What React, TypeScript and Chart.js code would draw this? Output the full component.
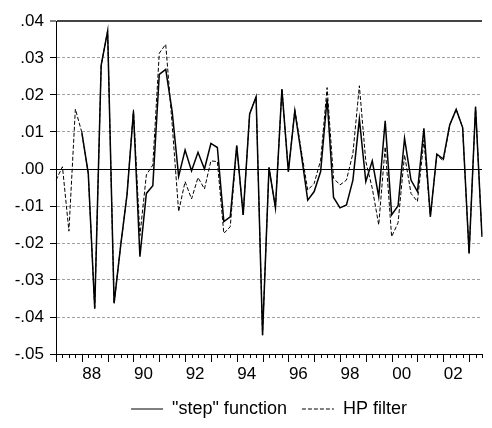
import React, { useEffect, useRef } from "react";
import { Chart, registerables } from "chart.js";

Chart.register(...registerables);

const quarters: string[] = [
  "1987Q1", "1987Q2", "1987Q3", "1987Q4",
  "1988Q1", "1988Q2", "1988Q3", "1988Q4",
  "1989Q1", "1989Q2", "1989Q3", "1989Q4",
  "1990Q1", "1990Q2", "1990Q3", "1990Q4",
  "1991Q1", "1991Q2", "1991Q3", "1991Q4",
  "1992Q1", "1992Q2", "1992Q3", "1992Q4",
  "1993Q1", "1993Q2", "1993Q3", "1993Q4",
  "1994Q1", "1994Q2", "1994Q3", "1994Q4",
  "1995Q1", "1995Q2", "1995Q3", "1995Q4",
  "1996Q1", "1996Q2", "1996Q3", "1996Q4",
  "1997Q1", "1997Q2", "1997Q3", "1997Q4",
  "1998Q1", "1998Q2", "1998Q3", "1998Q4",
  "1999Q1", "1999Q2", "1999Q3", "1999Q4",
  "2000Q1", "2000Q2", "2000Q3", "2000Q4",
  "2001Q1", "2001Q2", "2001Q3", "2001Q4",
  "2002Q1", "2002Q2", "2002Q3", "2002Q4",
  "2003Q1", "2003Q2", "2003Q3",
];

const stepFunction: (number | null)[] = [
  null, null, null, null,
  0.0099, -0.0012, -0.0377, 0.0281,
  0.0373, -0.0363, -0.021, -0.007,
  0.0155, -0.0237, -0.0066, -0.0045,
  0.0256, 0.0269, 0.0155, -0.002,
  0.0051, -0.0005, 0.0045, 0.0,
  0.0069, 0.0058, -0.0142, -0.0129,
  0.0063, -0.0124, 0.0149, 0.0195,
  -0.0449, 0.0004, -0.0105, 0.0216,
  -0.0007, 0.0157, 0.004, -0.0084,
  -0.0061, -0.0007, 0.019, -0.0077,
  -0.0105, -0.0097, -0.003, 0.0135,
  -0.0034, 0.0022, -0.0075, 0.013,
  -0.0124, -0.0099, 0.0083, -0.003,
  -0.0061, 0.011, -0.0129, 0.004,
  0.0027, 0.0119, 0.0161, 0.0112,
  -0.0228, 0.0168, -0.0183,
];

const hpFilter: number[] = [
  -0.003, 0.0006, -0.0168, 0.0162,
  0.0099, -0.0012, -0.0377, 0.0281,
  0.0373, -0.0363, -0.021, -0.007,
  0.016, -0.018, -0.0016, 0.0011,
  0.0313, 0.0337, 0.012, -0.0115,
  -0.0034, -0.0081, -0.0023, -0.0054,
  0.0022, 0.002, -0.0174, -0.0156,
  0.0063, -0.0124, 0.0149, 0.0195,
  -0.0449, 0.0004, -0.0105, 0.0216,
  -0.0007, 0.0161, 0.005, -0.0057,
  -0.0039, 0.0024, 0.022, -0.0025,
  -0.0043, -0.003, 0.0042, 0.0225,
  0.002, -0.0052, -0.0151, 0.006,
  -0.0183, -0.0145, 0.0038, -0.0066,
  -0.0088, 0.0078, -0.0129, 0.0038,
  0.0022, 0.0119, 0.0161, 0.0112,
  -0.0228, 0.0168, -0.0183,
];

const seriesNames = ['"step" function', "HP filter"];

const FONT = "'Liberation Sans', Arial, sans-serif";

const near = (a: number, b: number) => Math.abs(a - b) < 1e-9;

const quarterTicks = {
  id: "quarterTicks",
  afterDraw(chart: any) {
    const xs = chart.scales.x;
    const { bottom } = chart.chartArea;
    const ctx = chart.ctx;
    ctx.save();
    ctx.strokeStyle = "#000";
    ctx.lineWidth = 1;
    quarters.forEach((q, i) => {
      const px = Math.round(xs.getPixelForValue(i)) + 0.5;
      const len = q.endsWith("Q1") ? 8 : 4;
      ctx.beginPath();
      ctx.moveTo(px, bottom);
      ctx.lineTo(px, bottom + len);
      ctx.stroke();
    });
    ctx.restore();
  },
};

export default function App() {
  const ref = useRef<HTMLCanvasElement | null>(null);

  useEffect(() => {
    document.body.style.margin = "0";
    if (!ref.current) return;
    Chart.defaults.font.family = FONT;
    Chart.defaults.font.size = 17;
    Chart.defaults.color = "#000";
    const chart = new Chart(ref.current, {
      type: "line",
      data: {
        labels: quarters,
        datasets: [
          {
            label: seriesNames[0],
            data: stepFunction,
            borderColor: "#000",
            backgroundColor: "#000",
            borderWidth: 1.5,
            pointRadius: 0,
            pointStyle: "line",
            tension: 0,
            order: 0,
          },
          {
            label: seriesNames[1],
            data: hpFilter,
            borderColor: "#000",
            backgroundColor: "#000",
            borderWidth: 1,
            borderDash: [4, 2],
            pointRadius: 0,
            pointStyle: "line",
            tension: 0,
            order: 1,
          },
        ],
      },
      options: {
        animation: false,
        responsive: false,
        devicePixelRatio: 1,
        layout: { padding: { top: 21, right: 2, left: 0, bottom: 0 } },
        plugins: {
          tooltip: { enabled: false },
          legend: {
            position: "bottom",
            fullSize: false,
            labels: {
              usePointStyle: true,
              pointStyleWidth: 32,
              padding: 15,
              color: "#000",
              font: { size: 18, family: FONT },
              generateLabels: (ch: any) => {
                const items = Chart.defaults.plugins.legend.labels.generateLabels(ch);
                return items.map((it: any, i: number) => ({
                  ...it,
                  lineWidth: 1,
                  lineDash: i === 1 ? [4, 2] : [],
                  strokeStyle: "#000",
                  fillStyle: "#000",
                  pointStyle: "line",
                }));
              },
            },
          },
        },
        scales: {
          x: {
            type: "category",
            offset: false,
            grid: { display: false, drawTicks: false },
            border: { display: true, color: "#000", width: 1 },
            afterFit: (s: any) => {
              s.height = 31;
            },
            ticks: {
              autoSkip: false,
              maxRotation: 0,
              minRotation: 0,
              padding: 10,
              labelOffset: 10,
              font: { size: 17, family: FONT },
              color: "#000",
              callback: function (this: any, value: any) {
                const lab: string = this.getLabelForValue(value);
                const yr = parseInt(lab.slice(0, 4), 10);
                if (lab.endsWith("Q1") && yr % 2 === 0) return lab.slice(2, 4);
                return "";
              },
            },
          },
          y: {
            min: -0.05,
            max: 0.04,
            afterFit: (s: any) => {
              s.width = 56;
            },
            border: {
              display: true,
              color: "#000",
              width: 1,
              dash: (ctx: any) => {
                const v = ctx.tick ? ctx.tick.value : null;
                if (v == null) return [];
                if (near(v, 0) || near(v, 0.04)) return [];
                return [3, 2];
              },
            },
            grid: {
              drawTicks: true,
              tickLength: 6,
              tickColor: "#000",
              tickWidth: 1,
              color: (ctx: any) => {
                const v = ctx.tick ? ctx.tick.value : null;
                if (v == null) return "#a0a0a0";
                if (near(v, 0)) return "#000";
                if (near(v, 0.04)) return "#444";
                if (near(v, -0.05)) return "rgba(0,0,0,0)";
                return "#a0a0a0";
              },
              lineWidth: (ctx: any) => {
                const v = ctx.tick ? ctx.tick.value : null;
                if (v != null && near(v, 0.04)) return 2;
                return 1;
              },
            },
            ticks: {
              stepSize: 0.01,
              padding: 6,
              font: { size: 17, family: FONT },
              color: "#000",
              callback: (value: any) => {
                const v = Number(value);
                const n = Math.round(Math.abs(v) * 100);
                const s = "." + String(n).padStart(2, "0");
                return v < -1e-9 ? "-" + s : s;
              },
            },
          },
        },
      },
      plugins: [quarterTicks],
    });
    return () => chart.destroy();
  }, []);

  return (
    <div style={{ width: 492, height: 428 }}>
      <canvas ref={ref} width={492} height={428} />
    </div>
  );
}
